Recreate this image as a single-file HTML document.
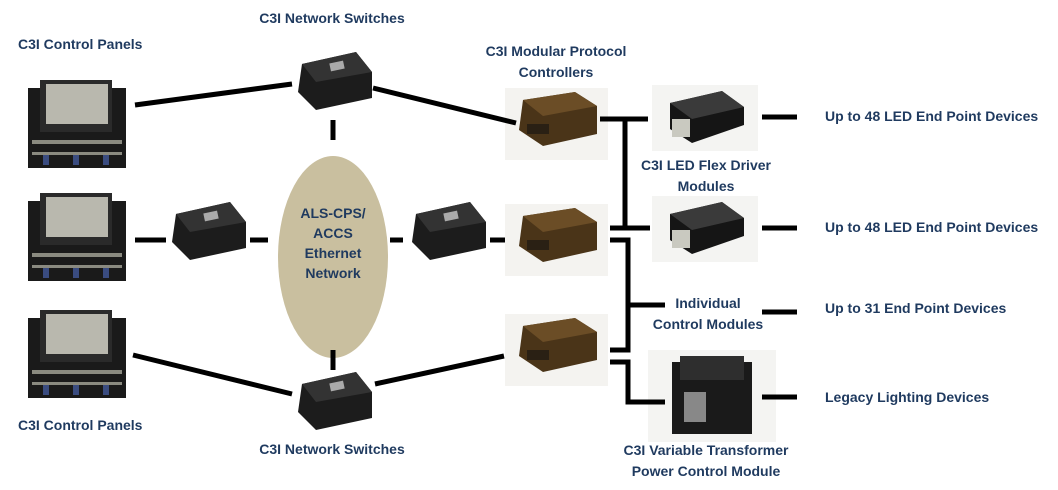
<!DOCTYPE html><html><head><style>
body{margin:0;background:#fff;width:1058px;height:490px;overflow:hidden;position:relative;font-family:"Liberation Sans",sans-serif}
.t{position:absolute;font-weight:bold;font-size:14px;color:#1f3a5f;white-space:nowrap;line-height:21px}
.c{text-align:center;transform:translateX(-50%)}
</style></head><body>
<svg width="1058" height="490" style="position:absolute;left:0;top:0">
<defs>
<g id="panel"><rect x="0" y="8" width="98" height="80" fill="#1a1a1a"/><rect x="12" y="0" width="72" height="52" fill="#2a2a2a"/><rect x="18" y="4" width="62" height="40" fill="#b9b8ae"/><rect x="4" y="60" width="90" height="4" fill="#8a8a80"/><rect x="4" y="72" width="90" height="3" fill="#8a8a80"/><rect x="15" y="75" width="6" height="10" fill="#3a4c80"/><rect x="45" y="75" width="6" height="10" fill="#3a4c80"/><rect x="75" y="75" width="6" height="10" fill="#3a4c80"/></g>
<g id="sw"><polygon points="8,12 62,0 78,20 78,46 22,58 4,40" fill="#1c1c1c"/><polygon points="8,12 62,0 78,20 22,30" fill="#333"/><rect x="36" y="10" width="14" height="8" fill="#aaa" transform="rotate(-12 43 14)"/></g>
<g id="mpc"><rect x="0" y="0" width="103" height="72" fill="#f4f3f0"/><polygon points="18,12 70,4 92,18 92,46 38,58 14,42" fill="#4a3418"/><polygon points="18,12 70,4 92,18 38,28" fill="#6b4d26"/><rect x="22" y="36" width="22" height="10" fill="#2a2014"/></g>
<g id="led"><rect x="0" y="0" width="106" height="66" fill="#f4f4f2"/><polygon points="18,18 70,6 92,22 92,40 40,58 18,44" fill="#151515"/><polygon points="18,18 70,6 92,22 40,34" fill="#3a3a3a"/><rect x="20" y="34" width="18" height="18" fill="#c9c9c0"/></g>
</defs>
<use href="#panel" x="28" y="80"/><use href="#panel" x="28" y="193"/><use href="#panel" x="28" y="310"/>
<use href="#sw" x="294" y="52"/><use href="#sw" x="168" y="202"/><use href="#sw" x="408" y="202"/><use href="#sw" x="294" y="372"/>
<use href="#mpc" x="505" y="88"/><use href="#mpc" x="505" y="204"/><use href="#mpc" x="505" y="314"/>
<use href="#led" x="652" y="85"/><use href="#led" x="652" y="196"/>
<rect x="648" y="350" width="128" height="92" fill="#f4f4f2"/><rect x="672" y="362" width="80" height="72" fill="#1a1a1a"/><rect x="680" y="356" width="64" height="24" fill="#2e2e2e"/><rect x="684" y="392" width="22" height="30" fill="#888"/>
<ellipse cx="333" cy="257" rx="55" ry="101" fill="#c9bf9f"/>
<g stroke="#000" stroke-width="5" fill="none">
<line x1="135" y1="105" x2="292" y2="84"/><line x1="373" y1="88" x2="516" y2="123"/>
<line x1="333" y1="120" x2="333" y2="140"/><line x1="333" y1="350" x2="333" y2="370"/>
<line x1="135" y1="240" x2="166" y2="240"/><line x1="250" y1="240" x2="268" y2="240"/><line x1="390" y1="240" x2="403" y2="240"/><line x1="490" y1="240" x2="505" y2="240"/>
<line x1="133" y1="355" x2="292" y2="394"/><line x1="375" y1="384" x2="504" y2="356"/>
<polyline points="600,119 648,119"/><line x1="625" y1="119" x2="625" y2="228"/><polyline points="610,228 650,228"/>
<polyline points="610,240 628,240 628,350 610,350"/><line x1="628" y1="305" x2="665" y2="305"/>
<polyline points="610,362 628,362 628,402 665,402"/>
<line x1="762" y1="117" x2="797" y2="117"/><line x1="762" y1="228" x2="797" y2="228"/><line x1="762" y1="312" x2="797" y2="312"/><line x1="762" y1="397" x2="797" y2="397"/>
</g></svg>
<div class="t" style="left:18px;top:34px">C3I Control Panels</div>
<div class="t c" style="left:332px;top:8px">C3I Network Switches</div>
<div class="t c" style="left:556px;top:41px">C3I Modular Protocol<br>Controllers</div>
<div class="t c" style="left:706px;top:155px">C3I LED Flex Driver<br>Modules</div>
<div class="t c" style="left:708px;top:293px">Individual<br>Control Modules</div>
<div class="t c" style="left:706px;top:440px">C3I Variable Transformer<br>Power Control Module</div>
<div class="t c" style="left:333px;top:203px;line-height:20px">ALS-CPS/<br>ACCS<br>Ethernet<br>Network</div>
<div class="t" style="left:825px;top:106px">Up to 48 LED End Point Devices</div>
<div class="t" style="left:825px;top:217px">Up to 48 LED End Point Devices</div>
<div class="t" style="left:825px;top:298px">Up to 31 End Point Devices</div>
<div class="t" style="left:825px;top:387px">Legacy Lighting Devices</div>
<div class="t" style="left:18px;top:415px">C3I Control Panels</div>
<div class="t c" style="left:332px;top:439px">C3I Network Switches</div>
</body></html>
